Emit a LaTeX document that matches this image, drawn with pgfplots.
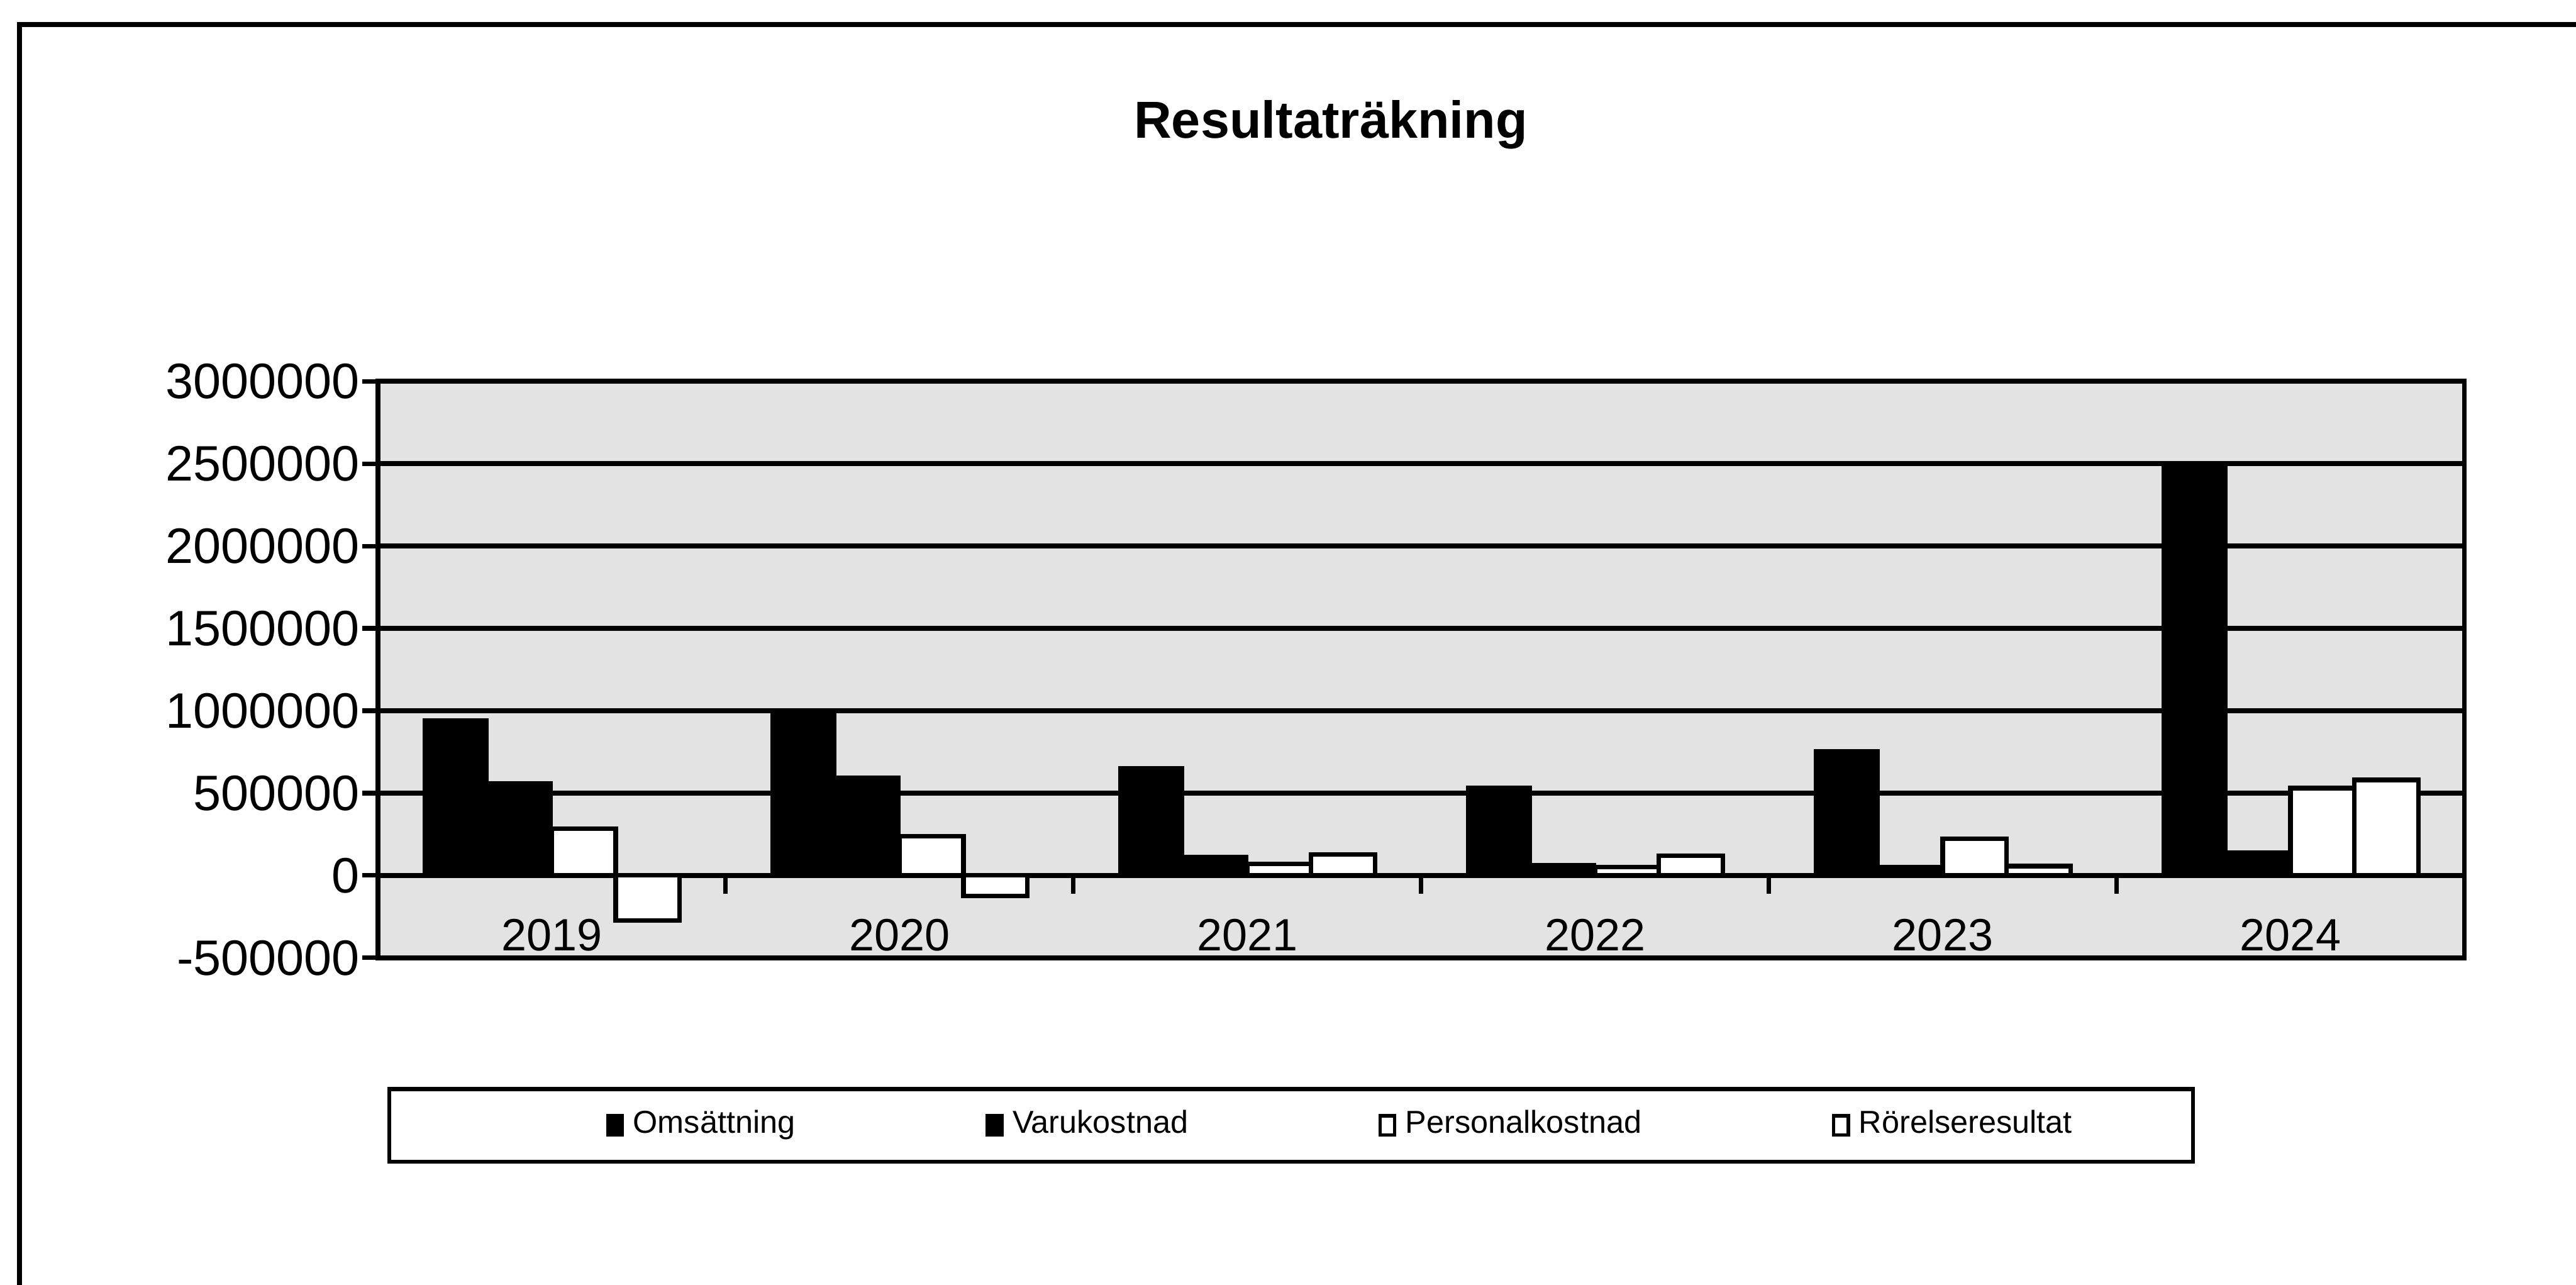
\documentclass[border=0pt]{standalone}
\usepackage{fontspec}
\setmainfont{Liberation Sans}
\usepackage{pgfplots}
\pgfplotsset{compat=1.18}
\begin{document}
\begin{tikzpicture}
\path[use as bounding box] (0pt,0pt) rectangle (568.9pt,283.7pt);
\draw[line width=1.1pt] (4.35pt,0pt) -- (4.35pt,278.3pt) -- (568.9pt,278.3pt);
\node[anchor=base,font=\bfseries\fontsize{11.5}{13}\selectfont] at (293.9pt,253.2pt) {Resultaträkning};
\draw[line width=0.9pt] (86.0pt,27.2pt) rectangle (484.3pt,43.2pt);
\begin{axis}[
  at={(83.44pt,72.2pt)}, anchor=south west,
  scale only axis, width=460.8pt, height=127.3pt,
  xmin=-0.5, xmax=5.5, ymin=-500000, ymax=3000000,
  xtick=\empty,
  ytick={-500000,0,500000,1000000,1500000,2000000,2500000,3000000},
  yticklabels={-500000,0,500000,1000000,1500000,2000000,2500000,3000000},
  scaled y ticks=false,
  ytick pos=left,
  yticklabel style={font=\fontsize{11}{13}\selectfont, xshift=3pt},
  ymajorgrids, grid style={black, line width=1.1pt},
  axis line style={line width=1.1pt},
  tick align=outside, major tick length=3.5pt,
  ytick style={black, line width=1pt},
  axis background/.style={fill=gray!22},
  ybar, bar width=0.184,
  legend columns=4,
  legend style={at={(0.1024,-0.2906)}, anchor=west, draw=none, fill=none,
    font=\fontsize{7}{8}\selectfont,
    /tikz/every even column/.append style={column sep=40pt}},
  legend image code/.code={\draw[line width=0.7pt,#1] (0pt,-2.1pt) rectangle (3.3pt,2.1pt);},
]
\addplot[fill=black, draw=black, bar shift=-0.276] coordinates {(0,950000) (1,1010000) (2,658000) (3,540000) (4,761000) (5,2510000)};
\addplot[fill=black, draw=black, bar shift=-0.092] coordinates {(0,565000) (1,600000) (2,120000) (3,70000) (4,57000) (5,145000)};
\addplot[fill=white, draw=black, line width=1pt, bar shift=0.092] coordinates {(0,283000) (1,238000) (2,69000) (3,51000) (4,224000) (5,530000)};
\addplot[fill=white, draw=black, line width=1pt, bar shift=0.276] coordinates {(0,-275000) (1,-125000) (2,126000) (3,119000) (4,57000) (5,580000)};
\legend{Omsättning,Varukostnad,Personalkostnad,Rörelseresultat}
\draw[line width=1pt] (axis cs:0.5,0) -- ++(0pt,-4pt);
\draw[line width=1pt] (axis cs:1.5,0) -- ++(0pt,-4pt);
\draw[line width=1pt] (axis cs:2.5,0) -- ++(0pt,-4pt);
\draw[line width=1pt] (axis cs:3.5,0) -- ++(0pt,-4pt);
\draw[line width=1pt] (axis cs:4.5,0) -- ++(0pt,-4pt);
\node[anchor=base, yshift=1.5pt, font=\fontsize{10}{12}\selectfont] at (axis cs:0,-500000) {2019};
\node[anchor=base, yshift=1.5pt, font=\fontsize{10}{12}\selectfont] at (axis cs:1,-500000) {2020};
\node[anchor=base, yshift=1.5pt, font=\fontsize{10}{12}\selectfont] at (axis cs:2,-500000) {2021};
\node[anchor=base, yshift=1.5pt, font=\fontsize{10}{12}\selectfont] at (axis cs:3,-500000) {2022};
\node[anchor=base, yshift=1.5pt, font=\fontsize{10}{12}\selectfont] at (axis cs:4,-500000) {2023};
\node[anchor=base, yshift=1.5pt, font=\fontsize{10}{12}\selectfont] at (axis cs:5,-500000) {2024};
\end{axis}
\end{tikzpicture}
\end{document}
